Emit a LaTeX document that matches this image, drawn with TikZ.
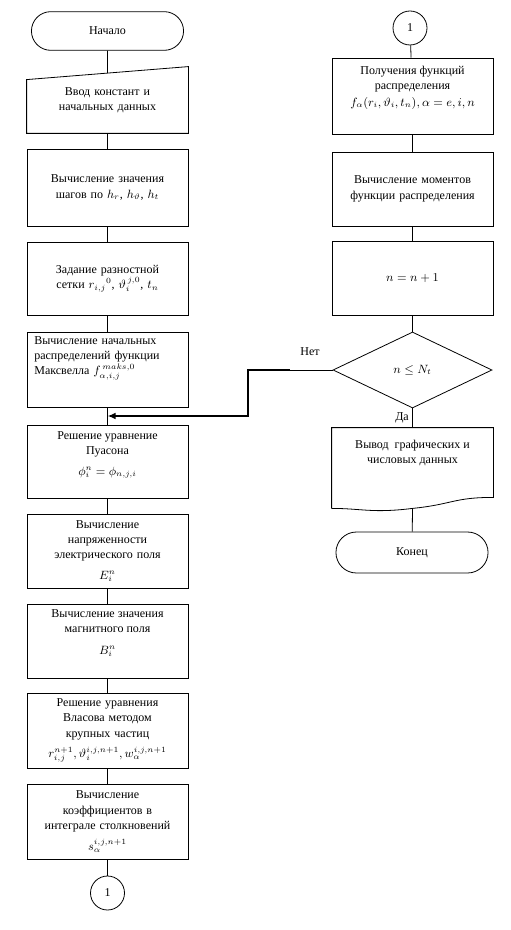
\documentclass[tikz,border=0pt]{standalone}
\usepackage{fontspec}
\setmainfont{Liberation Serif}
\usepackage{amsmath,amssymb}
\usetikzlibrary{shapes.geometric,shapes.misc,positioning,calc,arrows.meta}

\tikzset{
  box/.style={draw, minimum width=120.75pt, minimum height=55.5pt, text width=112pt, align=center, inner sep=2pt},
  term/.style={draw, rounded rectangle, minimum width=120.75pt, minimum height=29pt},
  conn/.style={draw, circle, minimum size=25.5pt, inner sep=0pt},
  decide/.style={draw, diamond, aspect=2.09, minimum width=119.25pt, minimum height=57pt, inner sep=0pt},
  txt/.style={align=center, inner sep=0pt}
}

\begin{document}
\begin{tikzpicture}[x=0.75pt, y=-0.75pt, line width=0.6pt, font=\fontsize{9}{11.5}\selectfont]
  \useasboundingbox (0,0) rectangle (510,930);

  % left column
  \node[term] (start) at (107.5,31) {Начало};
  \node[box, draw=none, minimum height=49.5pt] (input) at (107.5,100) {Ввод констант и\\начальных данных};
  \draw (input.south west) -- (input.south east) -- (input.north east) -- ([yshift=-9.75pt]input.north west) -- cycle;
  \coordinate (inTop) at ($(input.north east)!.5!([yshift=-9.75pt]input.north west)$);
  \node[box, minimum height=57.75pt] (steps) at (107.5,187.5) {Вычисление значения\\шагов по $h_r$, $h_\vartheta$, $h_t$};
  \node[box, minimum height=54.75pt] (grid) at (107.5,278.5) {Задание разностной\\сетки $r_{i,j}{}^{0}$, $\vartheta_i^{\,j,0}$, $t_n$};
  \node[box, minimum height=56.25pt] (maxw) at (107.5,369.5) {};
  \node[txt, align=left, text width=112pt] (maxw-t) at (109,358) {Вычисление начальных\\распределений функции\\Максвелла $f_{\alpha,i,j}^{\,maks,0}$};
  \node[box, minimum height=54.75pt] (poisson) at (107.5,461.5) {};
  \node[txt] (poisson-t) at (107.5,455) {Решение уравнение\\Пуасона\\[4pt]\mbox{$\phi_i^{n}=\phi_{n,j,i}$}};
  \node[box] (efield) at (107.5,551) {Вычисление\\напряженности\\электрического поля\\[4pt]$E_i^{n}$};
  \node[box] (bfield) at (107.5,641) {};
  \node[txt] (bfield-t) at (107.5,633) {Вычисление значения\\магнитного поля\\[5pt]$B_i^{n}$};
  \node[box, minimum height=56.25pt] (vlasov) at (107.5,730.5) {Решение уравнения\\Власова методом\\крупных частиц\\[4pt]\mbox{$r_{i,j}^{n+1}, \vartheta_i^{i,j,n+1}, w_\alpha^{i,j,n+1}$}};
  \node[box, minimum height=56.25pt] (coll) at (107.5,821.5) {Вычисление\\коэффициентов в\\интеграле столкновений\\[4pt]$s_\alpha^{i,j,n+1}$};
  \node[conn] (conL) at (107.5,893) {1};

  \draw (start) -- (inTop);
  \draw (input) -- (steps);
  \draw (steps) -- (grid);
  \draw (grid) -- (maxw);
  \draw (maxw) -- (poisson);
  \draw (poisson) -- (efield);
  \draw (efield) -- (bfield);
  \draw (bfield) -- (vlasov);
  \draw (vlasov) -- (coll);
  \draw (coll) -- (conL);

  % right column
  \node[conn] (conR) at (410,28) {1};
  \node[box, minimum height=57pt] (distr) at (412.5,96) {};
  \node[txt] (distr-t) at (412.5,88) {Получения функций\\распределения\\[1pt]\mbox{$f_\alpha(r_i,\vartheta_i,t_n), \alpha=e,i,n$}};
  \node[box] (moments) at (412.5,189) {Вычисление моментов\\функции распределения};
  \node[box] (incr) at (412.5,278) {\mbox{$n=n+1$}};
  \node[decide] (check) at (412.5,370) {$n\le N_t$};
  \node[box, draw=none, minimum height=60pt] (output) at (412.5,468) {};
  \draw (output.south west) -- (output.north west) -- (output.north east) -- ([yshift=8.25pt]output.south east)
    .. controls +(-40,0) and +(40,-4) .. (output.south)
    .. controls +(-40,5) and +(30,0) .. (output.south west);
  \node[txt, below=9pt of output.north] (output-t) {Вывод\ \ графических и\\числовых данных};
  \node[term, minimum height=30.75pt] (stop) at (412,552.5) {Конец};

  \draw (conR) -- (distr);
  \draw (distr) -- (moments);
  \draw (moments) -- (incr);
  \draw (incr) -- (check);
  \draw (check) -- (output);
  \draw (output.south) -- (stop);
  \node (yes) at (402,418) {Да};

  % return branch
  \coordinate (knee) at (290,370);
  \coordinate (turn) at (248,370);
  \coordinate (merge) at (107.5,416);
  \draw (check.west) -- (knee);
  \draw[line width=1.5pt, -{Latex[length=6pt,width=5pt]}] (knee) -- (turn) |- (merge);
  \node (no) at (310,352) {Нет};
\end{tikzpicture}
\end{document}
